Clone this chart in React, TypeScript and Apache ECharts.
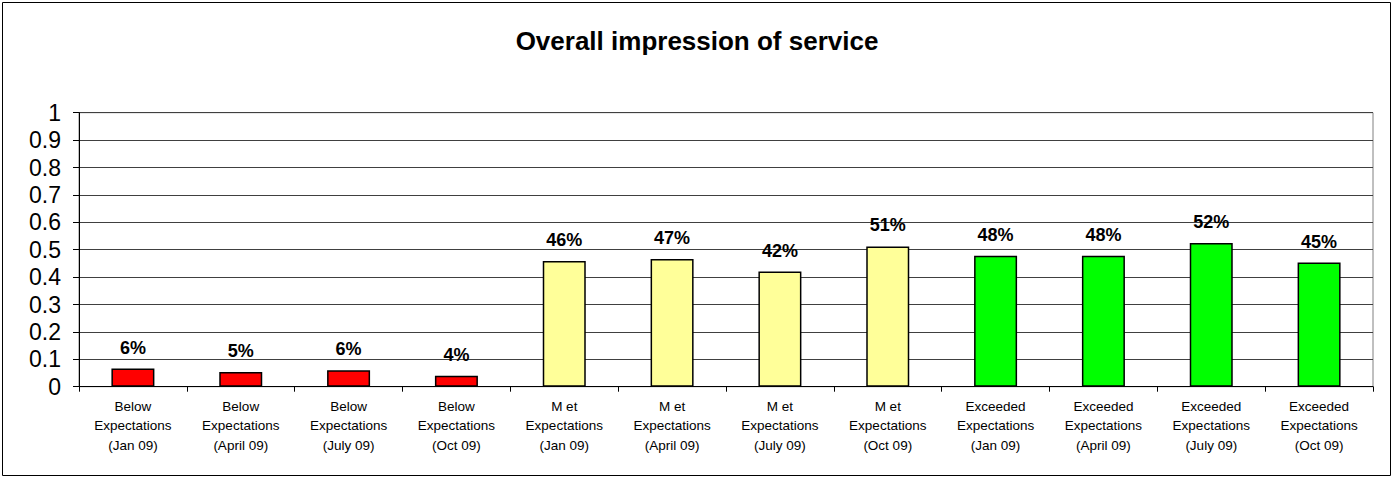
import React, { useEffect, useRef } from "react";
import * as echarts from "echarts";

const categories = [
  "Below\nExpectations\n(Jan 09)",
  "Below\nExpectations\n(April 09)",
  "Below\nExpectations\n(July 09)",
  "Below\nExpectations\n(Oct 09)",
  "M et\nExpectations\n(Jan 09)",
  "M et\nExpectations\n(April 09)",
  "M et\nExpectations\n(July 09)",
  "M et\nExpectations\n(Oct 09)",
  "Exceeded\nExpectations\n(Jan 09)",
  "Exceeded\nExpectations\n(April 09)",
  "Exceeded\nExpectations\n(July 09)",
  "Exceeded\nExpectations\n(Oct 09)",
];
const values = [0.066, 0.054, 0.06, 0.04, 0.459, 0.466, 0.42, 0.512, 0.478, 0.478, 0.524, 0.453];
const valueLabels = ["6%", "5%", "6%", "4%", "46%", "47%", "42%", "51%", "48%", "48%", "52%", "45%"];
const barColors = [
  "#FF0000", "#FF0000", "#FF0000", "#FF0000",
  "#FFFF99", "#FFFF99", "#FFFF99", "#FFFF99",
  "#00FF00", "#00FF00", "#00FF00", "#00FF00",
];
const yTicks = [0, 0.1, 0.2, 0.3, 0.4, 0.5, 0.6, 0.7, 0.8, 0.9, 1];

const FONT = "Arial, 'Liberation Sans', sans-serif";

export default function App() {
  const ref = useRef<HTMLDivElement>(null);
  useEffect(() => {
    if (!ref.current) return;
    const chart = echarts.init(ref.current, null, { renderer: "svg" });
    chart.setOption({
      animation: false,
      backgroundColor: "#ffffff",
      textStyle: { fontFamily: FONT },
      title: {
        text: "Overall impression of service",
        left: "center",
        top: 23,
        textStyle: { fontSize: 26, fontWeight: "bold", color: "#000", fontFamily: FONT },
      },
      graphic: [
        {
          type: "rect",
          shape: { x: 2.5, y: 2.5, width: 1388, height: 473 },
          style: { fill: "none", stroke: "#000", lineWidth: 1 },
          silent: true,
        },
      ],
      grid: {
        left: 79,
        right: 21,
        top: 112.7,
        bottom: 91.3,
        show: true,
        borderColor: "#808080",
        borderWidth: 1,
        backgroundColor: "transparent",
      },
      xAxis: {
        type: "category",
        data: categories,
        boundaryGap: true,
        axisLine: { lineStyle: { color: "#000", width: 1 } },
        axisTick: { show: true, length: 5, lineStyle: { color: "#000" } },
        axisLabel: {
          color: "#000",
          fontSize: 13.5,
          lineHeight: 19.5,
          margin: 10,
          interval: 0,
        },
      },
      yAxis: {
        type: "value",
        min: 0,
        max: 1,
        interval: 0.1,
        axisLine: { show: true, lineStyle: { color: "#000", width: 1 } },
        axisTick: { show: true, length: 6, lineStyle: { color: "#000" } },
        axisLabel: {
          color: "#000",
          fontSize: 23,
          margin: 18,
          formatter: (v: number) => {
            const t = yTicks.find((x) => Math.abs(x - v) < 1e-9);
            return t === undefined ? "" : String(Math.round(t * 10) / 10);
          },
        },
        splitLine: { show: true, lineStyle: { color: "#404040", width: 1 } },
      },
      series: [
        {
          type: "bar",
          barWidth: 43,
          data: values.map((v, i) => ({
            value: v,
            itemStyle: { color: barColors[i], borderColor: "#000", borderWidth: 1.5 },
          })),
          label: {
            show: true,
            position: "top",
            distance: 12,
            fontSize: 18,
            fontWeight: "bold",
            color: "#000",
            formatter: (p: any) => valueLabels[p.dataIndex],
          },
        },
      ],
    });
    return () => chart.dispose();
  }, []);
  return (
    <div
      ref={ref}
      style={{ position: "fixed", left: 0, top: 0, width: 1394, height: 478 }}
    />
  );
}
